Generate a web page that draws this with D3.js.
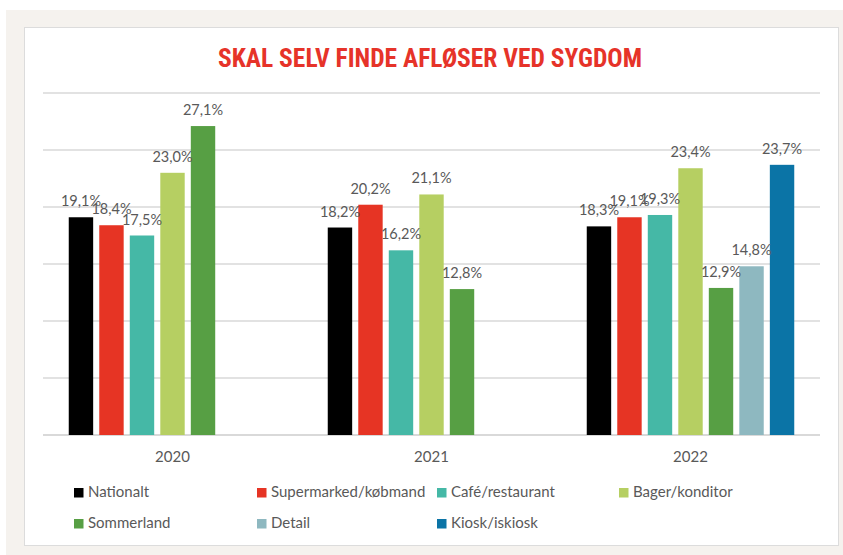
<!DOCTYPE html>
<html>
<head>
<meta charset="utf-8">
<script src="https://cdn.jsdelivr.net/npm/d3@7"></script>
<style>
  body { margin: 0; background: #fff; }
  svg { display: block; }
</style>
</head>
<body>
<script>
'use strict';

const years = ['2020', '2021', '2022'];
const series = ['Nationalt', 'Supermarked/købmand', 'Café/restaurant', 'Bager/konditor', 'Sommerland', 'Detail', 'Kiosk/iskiosk'];
const colors = ['#000000', '#E63424', '#45B8A6', '#B6CF62', '#579F44', '#8EB8C0', '#0B74A6'];
// values per series, one per year (null = not measured)
const values = [
  [19.1, 18.2, 18.3],
  [18.4, 20.2, 19.1],
  [17.5, 16.2, 19.3],
  [23.0, 21.1, 23.4],
  [27.1, 12.8, 12.9],
  [null, null, 14.8],
  [null, null, 23.7],
];
const yTicks = [0, 5, 10, 15, 20, 25, 30];

const width = 843, height = 555;
const plot = { left: 43, right: 820, top: 93, bottom: 435 };

const svg = d3.select('body').append('svg')
  .attr('width', width)
  .attr('height', height);

// background frame
svg.append('rect').attr('x', 6).attr('y', 10).attr('width', width - 6).attr('height', height - 10)
  .attr('fill', '#F5F2EE');
svg.append('rect').attr('x', 24.5).attr('y', 27.5).attr('width', 814).attr('height', 518)
  .attr('fill', '#fff').attr('stroke', '#DCDCDC').attr('stroke-width', 1);

svg.append('text')
  .attr('x', 430).attr('y', 67)
  .attr('text-anchor', 'middle')
  .attr('font-family', 'Liberation Sans Narrow, Roboto Condensed, Open Sans, sans-serif')
  .attr('font-weight', 'bold')
  .attr('font-size', 25)
  .attr('textLength', 424)
  .attr('lengthAdjust', 'spacingAndGlyphs')
  .attr('fill', '#E63329')
  .text('SKAL SELV FINDE AFLØSER VED SYGDOM');

const x0 = d3.scaleBand()
  .domain(years)
  .range([plot.left, plot.right])
  .paddingInner(0)
  .paddingOuter(0);

const x1 = d3.scaleBand()
  .domain(series)
  .range([22.7, x0.bandwidth() - 22.7])
  .paddingInner(0.2)
  .paddingOuter(0.1);

const y = d3.scaleLinear()
  .domain([0, 30])
  .range([plot.bottom, plot.top]);

// gridlines
svg.append('g')
  .selectAll('line')
  .data(yTicks)
  .join('line')
  .attr('x1', plot.left).attr('x2', plot.right)
  .attr('y1', d => y(d)).attr('y2', d => y(d))
  .attr('stroke', '#D9D9D9')
  .attr('stroke-width', d => d === 0 ? 2 : 1.5);

const bars = [];
series.forEach((s, i) => {
  years.forEach((yr, j) => {
    if (values[i][j] != null) bars.push({ s, i, yr, v: values[i][j] });
  });
});

const barG = svg.append('g');
barG.selectAll('rect')
  .data(bars)
  .join('rect')
  .attr('x', d => x0(d.yr) + x1(d.s))
  .attr('y', d => y(d.v))
  .attr('width', x1.bandwidth())
  .attr('height', d => y(0) - y(d.v))
  .attr('fill', d => colors[d.i]);

const fmt = v => v.toFixed(1).replace('.', ',') + '%';

barG.selectAll('text')
  .data(bars)
  .join('text')
  .attr('x', d => x0(d.yr) + x1(d.s) + x1.bandwidth() / 2)
  .attr('y', d => y(d.v) - 11)
  .attr('text-anchor', 'middle')
  .attr('font-family', 'Lato, Roboto, sans-serif')
  .attr('font-size', 14.5)
  .attr('fill', '#595959')
  .text(d => fmt(d.v));

// x axis labels
const xAxis = svg.append('g')
  .attr('transform', `translate(0,${plot.bottom})`)
  .call(d3.axisBottom(x0).tickSize(0).tickPadding(16));
xAxis.select('.domain').remove();
xAxis.selectAll('text')
  .attr('font-family', 'Lato, Roboto, sans-serif')
  .attr('font-size', 15)
  .attr('fill', '#595959');

// legend
const legendX = [74, 257, 437, 619];
const legendY = [488, 519];
const legend = svg.append('g')
  .selectAll('g')
  .data(series)
  .join('g')
  .attr('transform', (d, i) => `translate(${legendX[i % 4]},${legendY[Math.floor(i / 4)]})`);
legend.append('rect')
  .attr('width', 9.5).attr('height', 9.5)
  .attr('fill', (d, i) => colors[i]);
legend.append('text')
  .attr('x', 14).attr('y', 9)
  .attr('font-family', 'Lato, Roboto, sans-serif')
  .attr('font-size', 15)
  .attr('fill', '#595959')
  .text(d => d);
</script>
</body>
</html>
